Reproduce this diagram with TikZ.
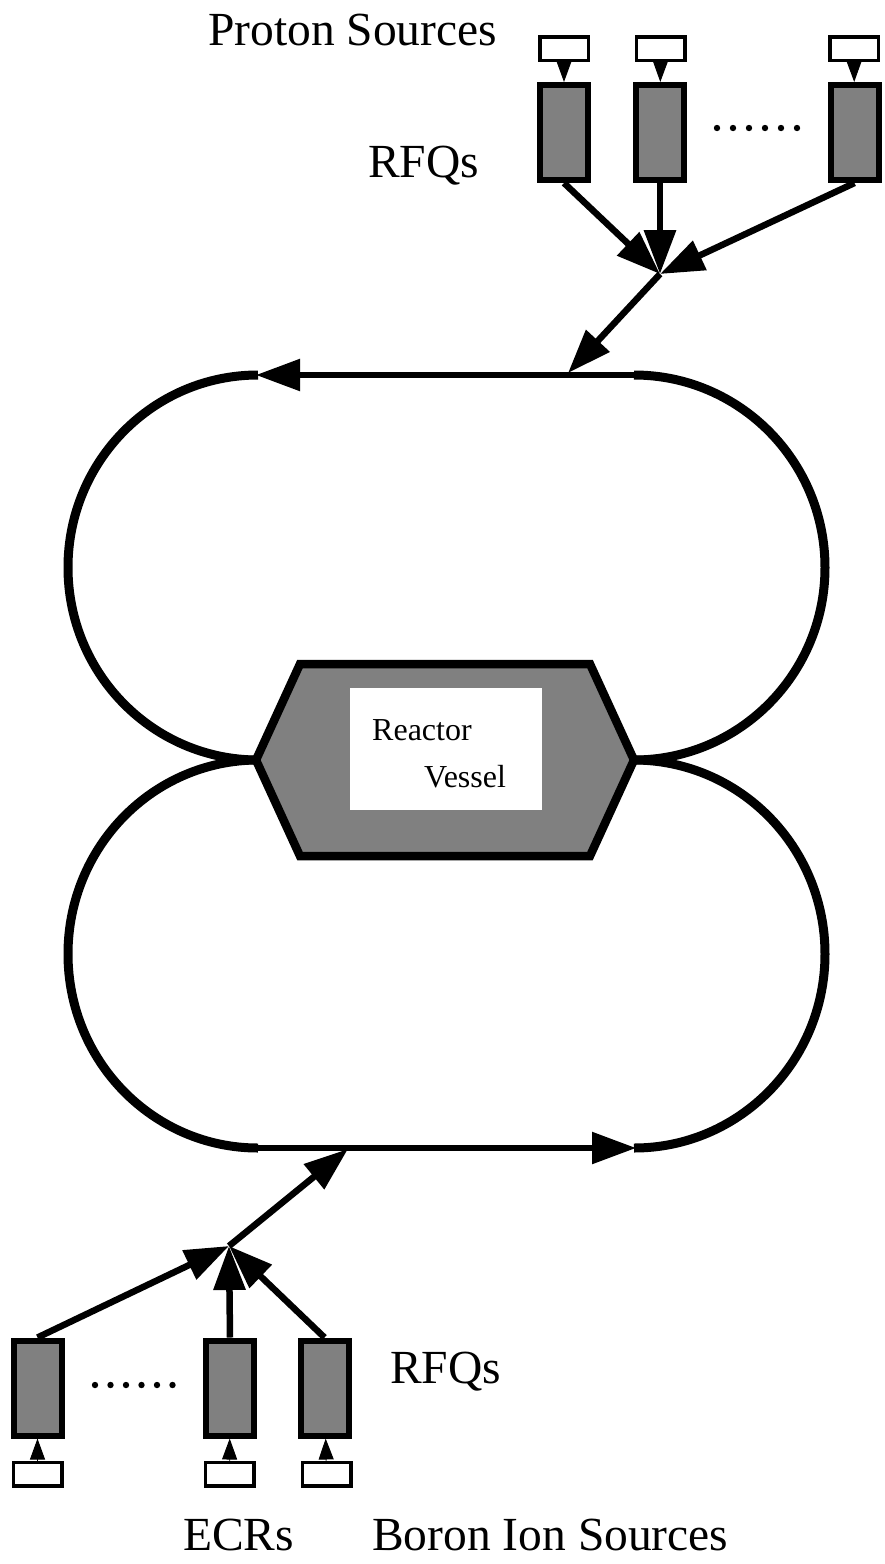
\documentclass[tikz,border=0pt]{standalone}
\usepackage{fontspec}
\setmainfont{Liberation Serif}
\usetikzlibrary{arrows.meta}
\tikzset{
  rfq/.style={draw,line width=6pt,fill=black!50,minimum width=48pt,minimum height=95pt,inner sep=0pt},
  src/.style={draw,line width=3.5pt,fill=white,minimum width=48.5pt,minimum height=23.5pt,inner sep=0pt},
  feed/.style={line width=1pt,-{Triangle[length=21pt,width=15pt]}},
  beam/.style={line width=6.5pt,-{Triangle[length=44pt,width=31pt]}},
  ring/.style={line width=9pt},
  lbl/.style={anchor=base west,inner sep=0pt,font=\fontsize{47.5}{50}\selectfont},
  small/.style={anchor=base west,inner sep=0pt,font=\fontsize{32}{34}\selectfont}
}
\begin{document}
\begin{tikzpicture}[x=1pt,y=1pt]
\useasboundingbox (0,0) rectangle (885,-1564);
\node[src] (ps1) at (564,-48.5) {}; \node[src] (ps2) at (660.5,-48.5) {}; \node[src] (ps3) at (854,-48.5) {};
\node[rfq] (pr1) at (564,-132.5) {}; \node[rfq] (pr2) at (660,-132.5) {}; \node[rfq] (pr3) at (854.5,-132.5) {};
\draw[feed] (ps1) -- (pr1); \draw[feed] (ps2) -- (pr2); \draw[feed] (ps3) -- (pr3);
\foreach \i in {0,...,5} \fill (717+16*\i,-128) circle (3.2);
\coordinate (pj) at (660,-274); \coordinate (pin) at (568,-373);
\draw[beam] (pr1.south) -- (pj); \draw[beam] (pr2.south) -- (pj); \draw[beam] (pr3.south) -- (pj);
\draw[beam] (pj) -- (pin);
\node[lbl] (tps) at (208,-45) {Proton Sources};
\node[lbl] (trfq) at (368,-177) {RFQs};
\draw[ring] (258,-375) arc[start angle=90,end angle=270,x radius=190,y radius=192.5];
\draw[ring] (634,-375) arc[start angle=90,end angle=-90,x radius=191,y radius=192.5];
\draw[ring] (258,-760) arc[start angle=90,end angle=270,x radius=190,y radius=194];
\draw[ring] (634,-760) arc[start angle=90,end angle=-90,x radius=191,y radius=194];
\draw[beam,line width=5.5pt] (634,-375) -- (256,-375);
\draw[beam,line width=5.5pt] (258,-1148) -- (636,-1148);
\draw[line width=8.5pt,fill=black!50] (256,-760) -- (300,-664) -- (590,-664) -- (634,-760) -- (590,-856) -- (300,-856) -- cycle;
\node[fill=white,minimum width=192pt,minimum height=122pt,inner sep=0pt] (vessel) at (446,-749) {};
\node[small] (treactor) at (372,-740) {Reactor};
\node[small] (tvessel) at (424,-787) {Vessel};
\node[rfq] (br1) at (37.5,-1388) {}; \node[rfq] (br2) at (230,-1388) {}; \node[rfq] (br3) at (324.5,-1388) {};
\node[src] (bs1) at (37.5,-1474) {}; \node[src] (bs2) at (229.5,-1474) {}; \node[src] (bs3) at (326.5,-1474) {};
\draw[feed] (bs1) -- (br1); \draw[feed] (bs2) -- (br2); \draw[feed] (bs3) -- (br3);
\foreach \i in {0,...,5} \fill (95+15.5*\i,-1385) circle (3.2);
\coordinate (bj) at (229,-1246); \coordinate (bin) at (348,-1149);
\draw[beam] (br1.north) -- (bj); \draw[beam] (br2.north) -- (bj); \draw[beam] (br3.north) -- (bj);
\draw[beam] (bj) -- (bin);
\node[lbl] (brfq) at (390,-1383) {RFQs};
\node[lbl] (tecr) at (183,-1550) {ECRs};
\node[lbl] (tboron) at (372,-1550) {Boron Ion Sources};
\end{tikzpicture}
\end{document}
